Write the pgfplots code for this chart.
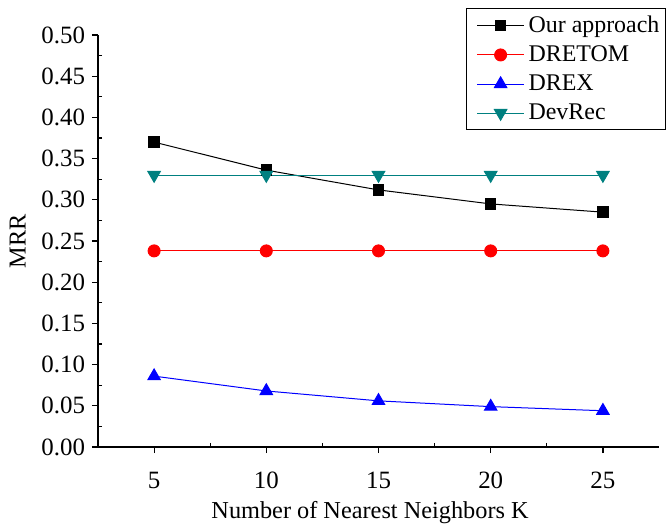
\documentclass[border=0pt]{standalone}
\usepackage{fontspec}
\setmainfont{Liberation Serif}
\newfontfamily\tnr{Liberation Serif}
\usepackage{pgfplots}
\pgfplotsset{compat=1.18}
\definecolor{devteal}{RGB}{0,128,128}

\pgfplotstableread{
K    ours   dretom  drex   devrec
5    0.370  0.238   0.086  0.330
10   0.336  0.238   0.068  0.330
15   0.312  0.238   0.056  0.330
20   0.295  0.238   0.049  0.330
25   0.285  0.238   0.044  0.330
}\mrrdata

\begin{document}
\tnr
\begin{tikzpicture}[font=\tnr]
\begin{axis}[
  scale only axis,
  width=280.5bp, height=206bp,
  xmin=2.5, xmax=27.5,
  ymin=0, ymax=0.5,
  axis x line*=bottom,
  axis y line*=left,
  axis line style={-, line width=0.75bp},
  xtick={5,10,15,20,25},
  ytick={0,0.05,...,0.51},
  minor x tick num=1,
  minor y tick num=1,
  tick align=outside,
  major tick length=3bp,
  minor tick length=-2bp,
  tick style={black, line width=0.6bp},
  yticklabel style={/pgf/number format/.cd, fixed, fixed zerofill, precision=2},
  /pgf/number format/assume math mode=true,
  tick label style={font=\tnr\fontsize{12.5}{14}\selectfont},
  xticklabel style={yshift=-6bp},
  label style={font=\tnr\fontsize{12.2}{14}\selectfont},
  xlabel={Number of Nearest Neighbors K},
  ylabel={MRR},
  xlabel style={at={(axis description cs:0.485,-0.158)}, anchor=center},
  ylabel style={at={(axis description cs:-0.143,0.5)}, anchor=center},
  legend cell align=left,
  legend style={
    at={(axis description cs:1,1)}, anchor=north east,
    xshift=3.5bp, yshift=13.5bp,
    font=\tnr\fontsize{12}{14}\selectfont,
    draw=black, line width=0.6bp,
    row sep=1.2bp, inner xsep=1bp, inner ysep=1.5bp,
    nodes={inner xsep=2bp},
  },
  legend image code/.code={
    \path (-4bp,0bp);
    \draw[mark repeat=2, mark phase=2, #1]
      plot coordinates {(0bp,0bp) (11.75bp,0bp) (23.5bp,0bp)};
  },
]
\addplot[black, line width=0.5bp, mark=square*, mark size=2.6pt,
  mark options={solid}] table[x=K, y=ours] {\mrrdata};
\addlegendentry{Our approach}
\addplot[red, line width=0.5bp, mark=*, mark size=3pt] table[x=K, y=dretom] {\mrrdata};
\addlegendentry{DRETOM}
\addplot[blue, line width=0.5bp, mark=triangle*, mark size=3.6pt] table[x=K, y=drex] {\mrrdata};
\addlegendentry{DREX}
\addplot[devteal, line width=0.5bp, mark=triangle*, mark size=3.6pt,
  mark options={rotate=180}] table[x=K, y=devrec] {\mrrdata};
\addlegendentry{DevRec}
\coordinate (bl) at (axis description cs:0,0);
\coordinate (tr) at (axis description cs:1,1);
\end{axis}
% fixed page frame around the axis
\pgfresetboundingbox
\path (bl) ++(-49bp,-40bp) (tr) ++(4bp,17.5bp);
\end{tikzpicture}
\end{document}
